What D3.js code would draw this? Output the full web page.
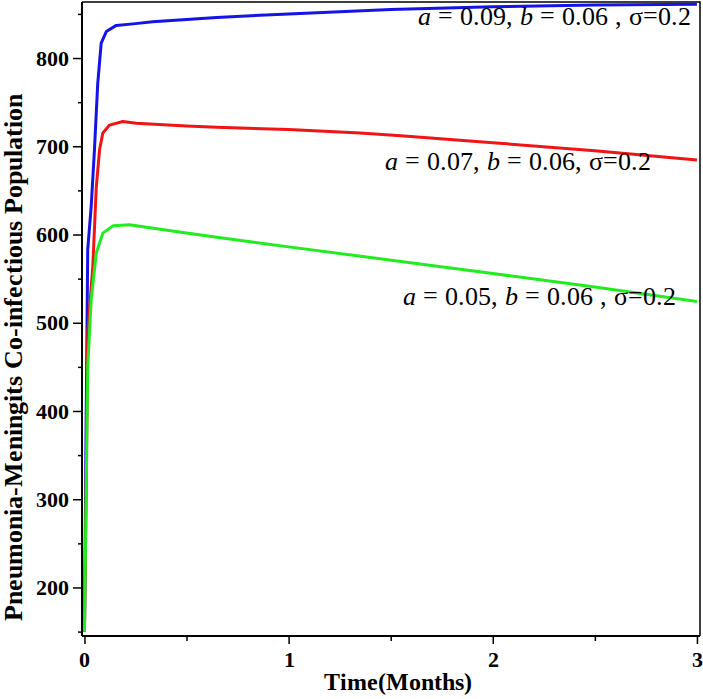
<!DOCTYPE html>
<html>
<head>
<meta charset="utf-8">
<script src="https://cdn.jsdelivr.net/npm/d3@7"></script>
<style>
  @font-face { font-family: "RefSerif"; src: local("Liberation Serif"), local("LiberationSerif"), local("Liberation Serif Regular"), local("LiberationSerif-Regular"); font-weight: normal; font-style: normal; }
  @font-face { font-family: "RefSerif"; src: local("Liberation Serif Bold"), local("LiberationSerif-Bold"); font-weight: bold; font-style: normal; }
  @font-face { font-family: "RefSerif"; src: local("Liberation Serif Italic"), local("LiberationSerif-Italic"); font-weight: normal; font-style: italic; }
  html, body { margin: 0; padding: 0; background: #fff; }
  #s text, #s tspan, #s .tick text {
    font-family: "RefSerif", "Liberation Serif", "Times New Roman", Tinos, serif !important;
  }
  #s .bold { font-weight: bold !important; }
  #s .ital { font-style: italic !important; }
</style>
</head>
<body>
<svg id="s" width="703" height="699"></svg>
<script>
// ---- data ----
const blueT   = [0, 0.008, 0.016, 0.033, 0.049, 0.065, 0.082, 0.107, 0.156, 0.25, 0.334, 0.648, 1.0, 1.5, 2.0, 2.5, 3.0];
const blueV   = [150, 380, 583, 632, 696, 771, 817, 830, 837, 839, 841, 846, 850, 855, 858, 860, 861];
const redT    = [0, 0.008, 0.016, 0.041, 0.058, 0.074, 0.09, 0.123, 0.188, 0.254, 0.5, 0.648, 1.0, 1.35, 1.55, 2.0, 2.5, 3.0];
const redV    = [150, 300, 489, 564, 654, 696, 715, 724, 728, 726, 723, 721.6, 719, 715, 712, 704, 695, 684.5];
const greenT  = [0, 0.016, 0.033, 0.058, 0.09, 0.14, 0.22, 0.337, 0.5, 0.648, 1.0, 1.55, 2.0, 2.5, 3.0];
const greenV  = [150, 450, 526, 579, 601.6, 609.8, 611, 607, 601.6, 597, 586, 569.5, 555.7, 540.5, 524];
const seriesNames = ["blue", "red", "green"];
const seriesColors = ["#1414e6", "#f01414", "#20ec20"];
const annotA = ["0.09", "0.07", "0.05"];
const annotB = ["0.06 ,", "0.06,", "0.06 ,"];
const annotSigma = ["0.2", "0.2", "0.2"];
const xMajorTicks = [0, 1, 2, 3];
const xMinorTicks = [0.5, 1.5, 2.5];
const yMajorTicks = [200, 300, 400, 500, 600, 700, 800];
const yMinorTicks = [150, 250, 350, 450, 550, 650, 750, 850];
const xTitle = "Time(Months)";
const yTitle = "Pneumonia-Meningits Co-infectious Population";

// ---- layout ----
const svg = d3.select("#s");
const L = 82, R = 700, T = 2, B = 636;
const x = d3.scaleLinear().domain([-0.012, 3.015]).range([L, R]);
const y = d3.scaleLinear().domain([145, 863.5]).range([B, T]);
const FONT = "RefSerif, Liberation Serif, serif";

// frame (top and right)
svg.append("path")
  .attr("d", `M${L},${T}H${R}V${B}`)
  .attr("fill", "none").attr("stroke", "#000").attr("stroke-width", 1.5);

// curves
const series = [
  { t: blueT, v: blueV },
  { t: redT, v: redV },
  { t: greenT, v: greenV }
];
const line = d3.line().x(d => x(d[0])).y(d => y(d[1]));
series.forEach((s, i) => {
  const pts = s.t.map((t, j) => [t, s.v[j]]);
  svg.append("path")
    .datum(pts)
    .attr("class", "series " + seriesNames[i])
    .attr("d", line)
    .attr("fill", "none")
    .attr("stroke", seriesColors[i])
    .attr("stroke-width", 3)
    .attr("stroke-linejoin", "round");
});

// axes
const xAxisMajor = d3.axisBottom(x).tickValues(xMajorTicks).tickSize(8).tickPadding(7).tickFormat(d3.format("d"));
const xAxisMinor = d3.axisBottom(x).tickValues(xMinorTicks).tickSize(5).tickFormat("");
const yAxisMajor = d3.axisLeft(y).tickValues(yMajorTicks).tickSize(9).tickPadding(4).tickFormat(d3.format("d"));
const yAxisMinor = d3.axisLeft(y).tickValues(yMinorTicks).tickSize(4).tickFormat("");

function styleAxis(g) {
  g.attr("font-family", FONT).attr("font-size", 22).attr("font-weight", "bold");
  g.select(".domain").remove();
  g.selectAll(".tick line").attr("stroke", "#000").attr("stroke-width", 1.5);
  g.selectAll(".tick text").attr("fill", "#000").attr("class", "bold");
}
svg.append("g").attr("transform", `translate(0,${B})`).call(xAxisMajor).call(styleAxis);
svg.append("g").attr("transform", `translate(0,${B})`).call(xAxisMinor).call(styleAxis);
svg.append("g").attr("transform", `translate(${L},0)`).call(yAxisMajor).call(styleAxis);
svg.append("g").attr("transform", `translate(${L},0)`).call(yAxisMinor).call(styleAxis);

// axis lines
svg.append("line").attr("x1", L).attr("x2", R).attr("y1", B).attr("y2", B)
  .attr("stroke", "#000").attr("stroke-width", 2);
svg.append("line").attr("x1", L).attr("x2", L).attr("y1", T).attr("y2", B)
  .attr("stroke", "#000").attr("stroke-width", 2);

// titles
svg.append("text")
  .attr("class", "bold")
  .attr("x", 398).attr("y", 690)
  .attr("text-anchor", "middle")
  .attr("font-family", FONT).attr("font-size", 24).attr("font-weight", "bold")
  .text(xTitle);
svg.append("text")
  .attr("class", "bold")
  .attr("transform", "translate(22,357) rotate(-90)")
  .attr("text-anchor", "middle")
  .attr("font-family", FONT).attr("font-size", 25.5).attr("font-weight", "bold")
  .text(yTitle);

// annotations
const annotPos = [[418, 25], [385, 170], [403, 305]];
annotA.forEach((a, i) => {
  const t = svg.append("text")
    .attr("x", annotPos[i][0]).attr("y", annotPos[i][1])
    .attr("font-family", FONT).attr("font-size", 26)
    .attr("fill", "#000");
  t.append("tspan").attr("class", "ital").attr("font-style", "italic").text("a");
  t.append("tspan").text(" = " + a + ", ");
  t.append("tspan").attr("class", "ital").attr("font-style", "italic").text("b");
  t.append("tspan").text(" = " + annotB[i] + " σ=" + annotSigma[i]);
});
</script>
</body>
</html>
